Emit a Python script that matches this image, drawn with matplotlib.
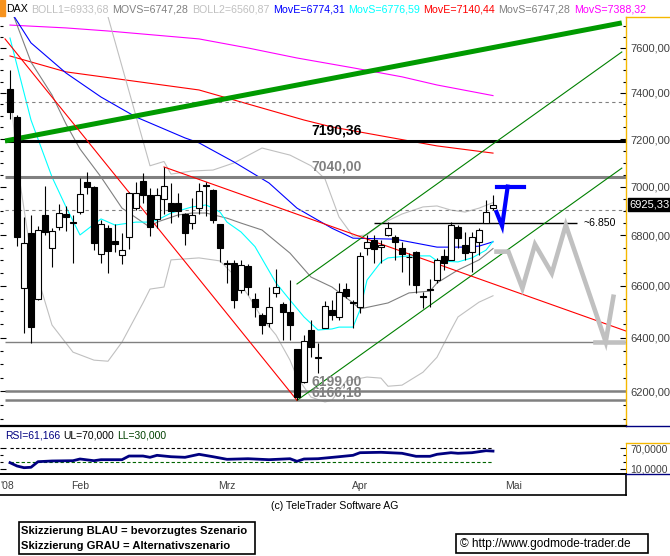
import matplotlib
matplotlib.use("Agg")
import matplotlib.pyplot as plt
import matplotlib.transforms as mtransforms
from matplotlib.lines import Line2D
from matplotlib.patches import Rectangle
from matplotlib.ticker import FixedLocator, FuncFormatter, NullFormatter

plt.rcParams['font.family'] = ['Liberation Sans', 'DejaVu Sans']

# === Kerzen (Handelstag-Index, 0 = 21.01.2008) ===
days = list(range(-1, 69))
opens = [7417, 7295, 6590, 6809, 6547, 6883, 6748, 6833, 6886, 6854,
         6894, 7019, 7000, 6724, 6829, 6777, 6721, 6792, 6910, 7023,
         6965, 6865, 6947, 6931, 6931, 6887, 6849, 6910, 7006, 6986,
         6845, 6690, 6688, 6583, 6678, 6547, 6486, 6457, 6570, 6528,
         6499, 6357, 6235, 6429, 6328, 6435, 6506, 6480, 6586, 6535,
         6516, 6748, 6781, 6752, 6802, 6792, 6748, 6712, 6735, 6560,
         6586, 6622, 6718, 6702, 6835, 6762, 6735, 6774, 6851, 6910]
highs = [7501, 7303, 6876, 6883, 6838, 7004, 6829, 6928, 6920, 6883,
         7034, 7062, 7004, 6862, 6842, 6846, 6809, 6977, 7020, 7055,
         6993, 6993, 7082, 7016, 6972, 6890, 6954, 7014, 7020, 6989,
         6845, 6702, 6702, 6700, 6686, 6570, 6493, 6596, 6665, 6536,
         6622, 6357, 6410, 6467, 6378, 6541, 6544, 6609, 6609, 6544,
         6735, 6802, 6802, 6781, 6854, 6800, 6774, 6730, 6738, 6577,
         6625, 6708, 6744, 6856, 6842, 6815, 6815, 6829, 6944, 6965]
lows = [7286, 6758, 6416, 6381, 6544, 6802, 6675, 6822, 6819, 6689,
        6889, 6969, 6741, 6690, 6651, 6732, 6686, 6744, 6903, 6933,
        6798, 6829, 6889, 6849, 6876, 6761, 6825, 6889, 6879, 6849,
        6695, 6609, 6512, 6570, 6564, 6480, 6414, 6442, 6557, 6391,
        6391, 6166, 6230, 6328, 6266, 6435, 6467, 6467, 6552, 6435,
        6493, 6721, 6689, 6689, 6798, 6702, 6655, 6603, 6570, 6512,
        6518, 6611, 6662, 6700, 6748, 6700, 6655, 6721, 6851, 6903]
closes = [7317, 6792, 6768, 6439, 6822, 6815, 6818, 6890, 6876, 6850,
          6969, 7000, 6768, 6845, 6737, 6765, 6741, 6972, 6972, 6965,
          6835, 6965, 7004, 6900, 6900, 6809, 6883, 6983, 7002, 6862,
          6748, 6686, 6544, 6682, 6594, 6516, 6448, 6518, 6596, 6499,
          6448, 6180, 6388, 6363, 6324, 6521, 6486, 6577, 6560, 6531,
          6718, 6774, 6744, 6762, 6831, 6772, 6724, 6715, 6603, 6556,
          6583, 6702, 6689, 6842, 6788, 6728, 6795, 6822, 6896, 6925.33]

ema_long_days = [-1, 7, 26, 41, 45, 60, 68]
ema_long_vals = [7564, 7493, 7413, 7282, 7252, 7171, 7140.44]

ema_mid_days = [-1, 2, 7, 12, 17, 24, 26, 31, 36, 40, 45, 48, 54, 57, 60, 64, 66, 68]
ema_mid_vals = [7773, 7623, 7488, 7382, 7295, 7205, 7184, 7103, 7015, 6911,
                6829, 6789, 6785, 6769, 6753, 6753, 6757, 6774.31]

sma_short_days = [-1, 2, 5, 7, 9, 12, 14, 17, 19, 20, 22, 25, 27, 28, 29, 30, 32, 34,
                  37, 39, 41, 43, 45, 46, 48, 49, 50, 52, 53, 56, 59, 60, 63, 65, 67, 68]
sma_short_vals = [7645, 7282, 7040, 6916, 6802, 6867, 6842, 6854, 6854, 6862, 6891, 6916,
                  6924, 6911, 6895, 6854, 6814, 6755, 6611, 6544, 6479, 6429, 6433, 6440,
                  6440, 6506, 6622, 6694, 6710, 6718, 6718, 6698, 6694, 6710, 6741, 6776.59]

sma_mid_days = [-1, 2, 5, 7, 9, 12, 15, 19, 20, 23, 25, 27, 30, 32, 35, 39, 42, 45,
                48, 49, 53, 56, 59, 60, 63, 66, 68]
sma_mid_vals = [7790, 7537, 7391, 7265, 7158, 7040, 6911, 6833, 6854, 6883, 6891, 6891,
                6870, 6850, 6822, 6729, 6634, 6595, 6533, 6510, 6533, 6572, 6579, 6611,
                6662, 6702, 6747.28]

boll_up_days = [12, 19, 21, 22, 25, 28, 31, 35, 39, 42, 44, 46, 48, 50, 52, 55, 58,
                60, 62, 64, 66, 68]
boll_up_vals = [7857, 7087, 7105, 7052, 7065, 7069, 7099, 7162, 7132, 7087, 7032, 6875,
                6797, 6802, 6846, 6887, 6916, 6920, 6903, 6895, 6911, 6933.68]

boll_lo_days = [-1, 0, 2, 5, 8, 11, 13, 15, 18, 19, 21, 22, 26, 29, 31, 33, 35, 37, 39,
                40, 42, 44, 45, 47, 50, 52, 53, 55, 58, 60, 62, 63, 66, 68]
boll_lo_vals = [7420, 7100, 6721, 6448, 6345, 6315, 6311, 6383, 6533, 6587, 6595, 6702,
                6710, 6698, 6642, 6564, 6475, 6410, 6315, 6252, 6178, 6160, 6167, 6237,
                6252, 6248, 6218, 6222, 6270, 6326, 6429, 6479, 6536, 6560.87]

sma200_days = [-1, 7, 13, 26, 33, 40, 48, 55, 60, 68]
sma200_vals = [7704, 7691, 7677, 7641, 7600, 7555, 7511, 7471, 7435, 7388.32]

# === Trendlinien (Start/Ende) ===
trend_green_days = [-1.71, 86.4]
trend_green_vals = [7192, 7714]
chan_up_days = [40, 86.4]
chan_up_vals = [6607, 7582]
chan_lo_days = [40, 86.4]
chan_lo_vals = [6166.18, 7077]
red_steep_days = [-1.71, 40]
red_steep_vals = [7641, 6166.18]
red_down_days = [21, 87]
red_down_vals = [7082, 6425]

# === Szenarien ===
blue_days = [68.5, 69.3, 70.1]
blue_vals = [6895, 6838, 7000]
blue_bar_days = [68.5, 72.4]
gray_days = [68.5, 70.2, 72.2, 74.0, 76.4, 78.4, 84.1, 85.2]
gray_vals = [6735, 6735, 6590, 6764, 6649, 6842, 6384, 6557]
gray_bar_days = [82.6, 86.6]

# === RSI ===
rsi_days = [-1, 0, 1, 2, 3, 5, 8, 9, 11, 12, 15, 16, 18, 19, 20, 22, 24, 26, 28, 30,
            33, 36, 39, 40, 41, 43, 46, 48, 49, 52, 55, 57, 59, 60, 62, 63, 65, 67, 68]
rsi_vals = [28, 18.6, 13.7, 14.9, 30.9, 32.9, 33.7, 38.6, 33.7, 36.6, 36.6, 47.1, 47.1,
            43.4, 49.1, 45.1, 43.4, 52, 45.1, 37.7, 39.4, 36.6, 39.4, 32, 38.6, 39.4,
            45.1, 49.1, 56.6, 57.7, 54.9, 46.3, 46.3, 52, 56.6, 54.9, 56.6, 62.3, 61.166]

price_ticks = [6200, 6400, 6600, 6800, 7000, 7200, 7400, 7600]
month_pos = [-1.36, 9, 30, 49, 71]
month_labels = ["'08", "Feb", "Mrz", "Apr", "Mai"]

title_parts = [("DAX", "black"), ("BOLL1=6933,68", "#C0C0C0"), ("MOVS=6747,28", "#808080"),
               ("BOLL2=6560,87", "#C0C0C0"), ("MovE=6774,31", "#0000FF"),
               ("MovS=6776,59", "#00FFFF"), ("MovE=7140,44", "#FF0000"),
               ("MovS=6747,28", "#808080"), ("MovS=7388,32", "#FF00FF")]

# === Figur ===
W, H = 670, 556
fig = plt.figure(figsize=(W / 100, H / 100), dpi=100)
fig.patch.set_facecolor("white")


def box(l, t, r, b):
    return fig.add_axes([l / W, 1 - b / H, (r - l) / W, (b - t) / H])


def fig_line(x0, y0, x1, y1, **kw):
    fig.add_artist(Line2D([x0 / W, x1 / W], [1 - y0 / H, 1 - y1 / H],
                          transform=fig.transFigure, **kw))


def fig_text(x, y, s, **kw):
    return fig.text(x / W, 1 - y / H, s, **kw)


def komma(v, pos=None):
    return f"{v:.2f}".replace(".", ",")


XL = (-17 / 7, 87)

# --- Kurs-Panel ---
ax = box(0, 17, 626, 426)
ax.set_yscale("log")
ax.set_xlim(*XL)
ax.set_ylim(6073, 7741)
for s in ("top", "bottom", "left"):
    ax.spines[s].set_visible(False)
ax.spines["right"].set_color("#F5B800")
ax.spines["right"].set_linewidth(1)
ax.yaxis.set_major_locator(FixedLocator(price_ticks))
ax.yaxis.set_minor_locator(FixedLocator(range(6100, 7750, 50)))
ax.yaxis.set_major_formatter(FuncFormatter(komma))
ax.yaxis.set_minor_formatter(NullFormatter())
ax.tick_params(axis="y", which="both", left=True, right=True, labelleft=False,
               labelright=True, direction="in", labelsize=8, labelcolor="#404040", pad=3)
ax.tick_params(axis="y", which="major", length=4, width=0.8)
ax.tick_params(axis="y", which="minor", length=2.5, width=0.8)
ax.tick_params(axis="x", bottom=False, labelbottom=False)

# Indikatoren
ax.plot(sma200_days, sma200_vals, color="#FF00FF", lw=0.8, zorder=2)
ax.plot(ema_long_days, ema_long_vals, color="#FF0000", lw=0.8, zorder=2)
ax.plot(boll_up_days, boll_up_vals, color="#C0C0C0", lw=0.8, zorder=2)
ax.plot(boll_lo_days, boll_lo_vals, color="#C0C0C0", lw=0.8, zorder=2)
ax.plot(sma_mid_days, sma_mid_vals, color="#808080", lw=0.8, zorder=2)
ax.plot(ema_mid_days, ema_mid_vals, color="#0000FF", lw=0.8, zorder=2)
ax.plot(sma_short_days, sma_short_vals, color="#00FFFF", lw=0.8, zorder=2)

# Trendlinien
ax.plot(trend_green_days, trend_green_vals, color="#009A00", lw=3.6, zorder=2.5,
        solid_capstyle="butt")
ax.plot(chan_up_days, chan_up_vals, color="#008000", lw=0.8, zorder=2.5)
ax.plot(chan_lo_days, chan_lo_vals, color="#008000", lw=0.8, zorder=2.5)
ax.plot(red_steep_days, red_steep_vals, color="#FF0000", lw=0.8, zorder=2.5)
ax.plot(red_down_days, red_down_vals, color="#FF0000", lw=0.8, zorder=2.5)

# Horizontale Marken
x0, x1 = -1.71, 87
ax.hlines(7190.36, x0, x1, color="black", lw=2.2, zorder=2.4)
ax.hlines(7040.00, x0, x1, color="#808080", lw=2.2, zorder=2.4)
ax.hlines(6384, x0, x1, color="#808080", lw=1.0, zorder=2.4)
ax.hlines(6199.00, x0, x1, color="#808080", lw=1.8, zorder=2.4)
ax.hlines(6166.18, x0, x1, color="#808080", lw=1.8, zorder=2.4)
ax.hlines(6850, 51, 80, color="black", lw=1.0, zorder=2.4)
for lvl in (7360, 6903):
    ax.hlines(lvl, x0, x1, color="#808080", lw=0.8, linestyles=(0, (3, 3)), zorder=2.3)

lab_kw = dict(fontsize=10, fontweight="bold", textcoords="offset points",
              ha="left", va="bottom", zorder=6)
ax.annotate("7190,36", (42.1, 7190.36), xytext=(0, 2.5), color="black", **lab_kw)
ax.annotate("7040,00", (42.1, 7040.00), xytext=(0, 2.5), color="#808080", **lab_kw)
ax.annotate("6199,00", (42.1, 6199.00), xytext=(0, 2.0), color="#808080", **lab_kw)
ax.annotate("6166,18", (42.1, 6166.18), xytext=(0, 0.5), color="#808080", **lab_kw)
ax.text(80.9, 6850, "~6.850", fontsize=7.6, color="black", ha="left", va="center")

# Kerzen
for d, o, h, l, c in zip(days, opens, highs, lows, closes):
    ax.vlines(d, l, h, color="black", lw=0.8, zorder=3)
    up = c >= o
    ax.bar(d, max(abs(c - o), 1.5), bottom=min(o, c), width=0.72,
           facecolor="white" if up else "black", edgecolor="black", lw=0.8, zorder=4)

# Szenarien
ax.plot(blue_days, blue_vals, color="#0000FF", lw=3, zorder=5, solid_joinstyle="miter")
ax.plot(blue_bar_days, [7000, 7000], color="#0000FF", lw=3, zorder=5)
ax.plot(gray_days, gray_vals, color="#C0C0C0", lw=3.3, zorder=5, solid_joinstyle="miter")
ax.plot(gray_bar_days, [6384, 6384], color="#C0C0C0", lw=3.3, zorder=5)

# Letzter Kurs
blend = mtransforms.blended_transform_factory(ax.transAxes, ax.transData)
ax.text(1.006, closes[-1], komma(closes[-1]), transform=blend, ha="left", va="center",
        fontsize=8, color="white", zorder=7,
        bbox=dict(boxstyle="square,pad=0.12", fc="black", ec="black"))

# --- RSI-Panel ---
rax = box(0, 426, 626, 474)
rax.set_xlim(*XL)
rax.set_ylim(-4.3, 132.9)
for s in ("top", "bottom", "left"):
    rax.spines[s].set_visible(False)
rax.spines["right"].set_color("#F5B800")
rax.spines["right"].set_bounds(-4.3, 84.3)
rax.hlines(70, -1, 68, color="black", lw=0.8, linestyles=(0, (3, 2)))
rax.hlines(30, -1, 68, color="#006400", lw=0.8, linestyles=(0, (3, 2)))
rax.plot(rsi_days, rsi_vals, color="#000080", lw=2.0)
rax.yaxis.set_major_locator(FixedLocator([10, 70]))
rax.yaxis.set_minor_locator(FixedLocator([30, 50]))
rax.yaxis.set_major_formatter(FuncFormatter(lambda v, p: f"{v:.4f}".replace(".", ",")))
rax.tick_params(axis="y", which="both", left=True, right=True, labelleft=False,
                labelright=True, direction="in", labelsize=7.5, labelcolor="#404040", pad=3)
rax.tick_params(axis="y", which="major", length=4, width=0.8)
rax.tick_params(axis="y", which="minor", length=2.5, width=0.8)
rax.tick_params(axis="x", bottom=False, labelbottom=False)

rx = 5
for s, col in (("RSI=61,166", "#000080"), ("UL=70,000", "black"), ("LL=30,000", "#004000")):
    t = fig_text(rx, 436, s, color=col, fontsize=7.5, va="center")
    rx += t.get_window_extent(fig.canvas.get_renderer()).width + 3

# --- Datumsleiste ---
dax = box(0, 474, 626, 495)
dax.set_xlim(*XL)
dax.axis("off")
dtr = mtransforms.blended_transform_factory(dax.transData, dax.transAxes)
for pos, lab in zip(month_pos, month_labels):
    dax.text(pos, 0.45, lab, transform=dtr, ha="center", va="center",
             fontsize=7.5, color="#404040")

# Rahmen
fig_line(0, 426, 626, 426, color="black", lw=1.6)
fig_line(0, 474, 626, 474, color="black", lw=1.4)
fig_line(0, 495, 626, 495, color="black", lw=1.2)
fig_line(626, 474, 626, 495, color="black", lw=1.2)
fig_line(626, 17, 670, 17, color="#F5B800", lw=1)
fig_line(626, 443, 670, 443, color="#F5B800", lw=1)
fig_line(626, 426, 670, 426, color="#000080", lw=1)
fig_line(626, 474, 670, 474, color="#000080", lw=1)

# Titelzeile
fig.add_artist(Rectangle((0, 1 - 16 / H), 5 / W, 16 / H, transform=fig.transFigure,
                         color="#F7931E"))
tx = 6
renderer = fig.canvas.get_renderer()
for s, col in title_parts:
    t = fig_text(tx, 9, s, color=col, fontsize=7.7, va="center")
    tx += t.get_window_extent(renderer).width + 3.5

# Fusszeile
fig_text(335, 506, "(c) TeleTrader Software AG", ha="center", va="center",
         fontsize=7.6, color="black")
fig.add_artist(Rectangle((19 / W, 1 - 554 / H), 236 / W, 32 / H, transform=fig.transFigure,
                         fc="white", ec="black", lw=1.2))
fig_text(21, 531, "Skizzierung BLAU = bevorzugtes Szenario", fontsize=8.1,
         fontweight="bold", va="center")
fig_text(21, 546, "Skizzierung GRAU = Alternativszenario", fontsize=8.1,
         fontweight="bold", va="center")
fig.add_artist(Rectangle((456 / W, 1 - 553 / H), 192 / W, 19 / H, transform=fig.transFigure,
                         fc="white", ec="black", lw=1.2))
fig_text(460, 544, "\u00a9 http://www.godmode-trader.de", fontsize=8.6, va="center")

fig.savefig("out.png", dpi=100)
